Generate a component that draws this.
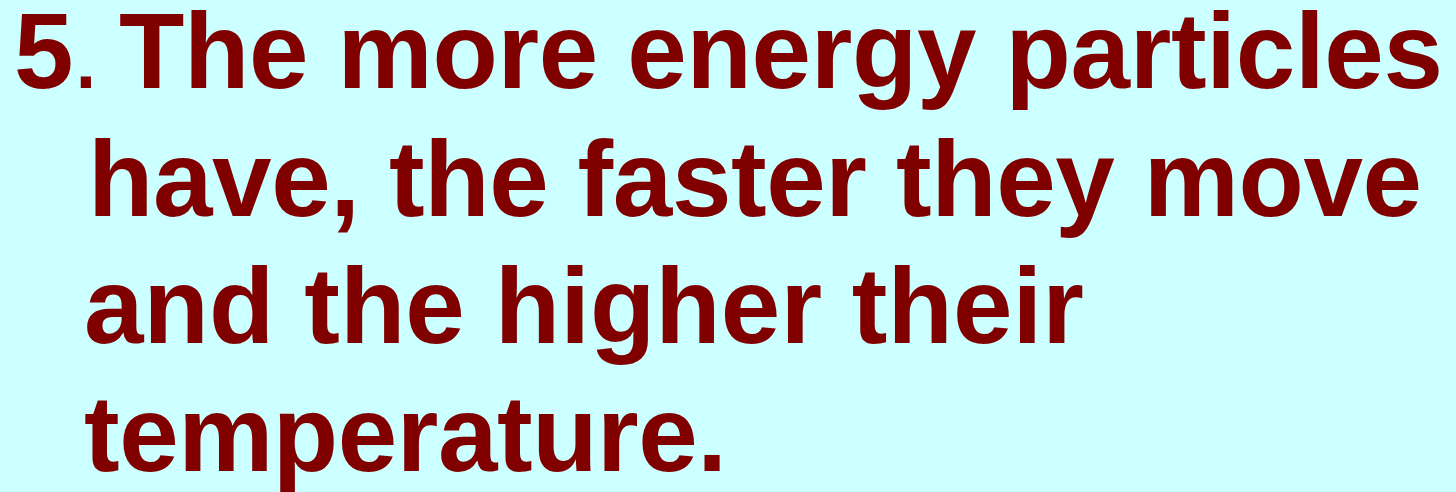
import React from "react";

const W = 1456;
const H = 492;
const bulletNumber = "5";
const bulletMark = ".";
const lines = [
  "The more energy particles",
  "have, the faster they move",
  "and the higher their",
  "temperature.",
];
const lineStarts = [119, 88, 84, 84];
const lineWidths = [1324, 1334, 1000, 643];
const background = "#CCFFFF";
const textColor = "#800000";

export default function App() {
  const fontSize = 107;
  const baseline0 = 88;
  const lineStep = 127.7;
  const font = "'Liberation Sans', Arial, sans-serif";
  return (
    <svg
      width={W}
      height={H}
      style={{ position: "fixed", left: 0, top: 0, display: "block" }}
    >
      <rect x={0} y={0} width={W} height={H} fill={background} />
      <text
        x={14}
        y={baseline0}
        fontFamily={font}
        fontSize={fontSize}
        fontWeight="bold"
        fill={textColor}
      >
        {bulletNumber}
      </text>
      <text
        x={71}
        y={baseline0}
        fontFamily={font}
        fontSize={fontSize}
        fontWeight="normal"
        fill={textColor}
      >
        {bulletMark}
      </text>
      {lines.map((ln, i) => (
        <text
          key={i}
          x={lineStarts[i]}
          y={baseline0 + i * lineStep}
          fontFamily={font}
          fontSize={fontSize}
          fontWeight="bold"
          fill={textColor}
          textLength={lineWidths[i]}
          lengthAdjust="spacing"
        >
          {ln}
        </text>
      ))}
    </svg>
  );
}
